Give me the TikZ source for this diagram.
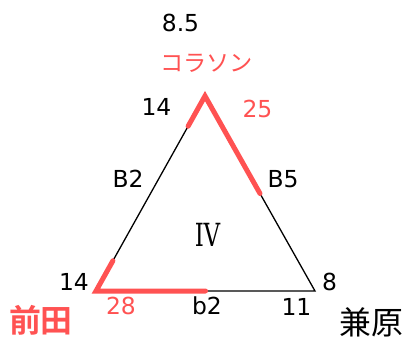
\documentclass[tikz,border=0pt]{standalone}
\usepackage{fontspec}
\usepackage{graphicx}
\usetikzlibrary{calc}
\setmainfont{DejaVu Sans}
\newfontfamily\jpfont{Noto Sans CJK JP}
\newfontfamily\jpbold{Noto Sans CJK JP Bold}
\newfontfamily\romfont{DejaVu Serif}
\definecolor{hired}{RGB}{255,82,82}
\begin{document}
\begin{tikzpicture}[x=1bp,y=-1bp,
  num/.style={inner sep=0pt,font=\fontsize{23.5}{23.5}\selectfont},
  rnum/.style={num,text=hired},
  kana/.style={inner sep=0pt,font=\fontsize{23.3}{23.3}\jpfont,text=hired},
  jname/.style={inner sep=0pt,font=\fontsize{32}{32}\jpfont},
  rjname/.style={inner sep=0pt,font=\fontsize{32}{32}\jpbold,text=hired},
  triline/.style={line width=1.3bp,black},
  hl/.style={line width=5bp,hired,line cap=round,line join=miter}]
\useasboundingbox (0,0) rectangle (406,338);
\coordinate (A) at (205,96);
\coordinate (B) at (96,291);
\coordinate (C) at (315,291);
\draw[triline] (A) -- (B) -- (C) -- cycle;
\draw[hl] ($(A)!0.155!(B)$) -- (A) -- ($(A)!0.5!(C)$);
\draw[hl] ($(B)!0.155!(A)$) -- (B) -- ($(B)!0.5!(C)$);
\node[num] (n85) at (180.5,23) {8.5};
\node[kana] (kor) at (206.5,63.5) {コラソン};
\node[num] (n14a) at (156.5,106.5) {14};
\node[rnum] (n25) at (257.5,108.5) {25};
\node[num] (nB2) at (128,179) {B2};
\node[num] (nB5) at (283,179) {B5};
\node[inner sep=0pt,font=\fontsize{32}{32}\romfont] (r4) at (207.5,235) {\scalebox{0.72}[1]{I\kern-0.5pt V}};
\node[num] (n14b) at (74,281.5) {14};
\node[num] (n8) at (329.5,281.5) {8};
\node[rnum] (n28) at (121,306) {28};
\node[num] (nb2) at (207,306) {b2};
\node[num] (n11) at (296.5,306.5) {11};
\node[rjname] (mae) at (41,320) {前田};
\node[jname] (kan) at (371.5,322) {兼原};
\end{tikzpicture}
\end{document}
